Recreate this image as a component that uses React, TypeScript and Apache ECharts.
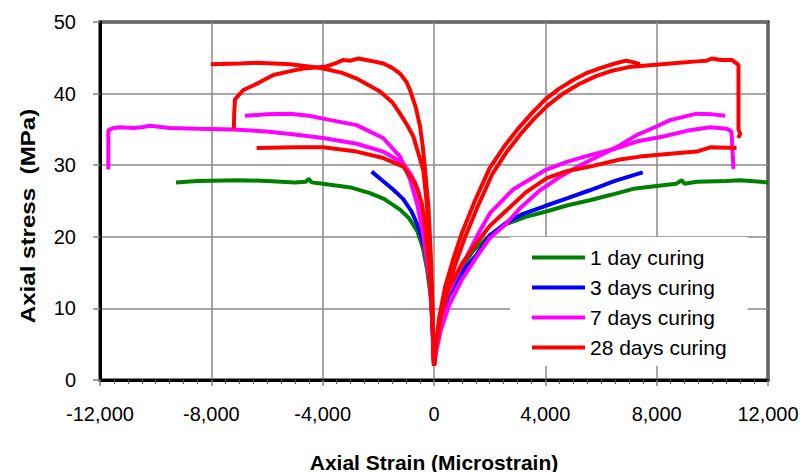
import React, { useEffect, useRef } from "react";
import * as echarts from "echarts";

const seriesNames = ["1 day curing", "3 days curing", "7 days curing", "28 days curing"];
const xTicks = { min: -12000, max: 12000, interval: 4000 };
const yTicks = { min: 0, max: 50, interval: 10 };

// 1 day curing
const day1Left: number[][] = [
  [-9270, 27.6], [-8500, 27.8], [-7000, 27.9], [-6000, 27.8], [-5000, 27.6], [-4600, 27.7], [-4500, 28.1],
  [-4400, 27.6], [-4000, 27.4], [-3000, 26.9], [-2300, 26.1], [-1800, 25.3], [-1220, 23.8], [-900, 22.6],
  [-600, 20.8], [-400, 18.5], [-250, 15.5], [-130, 12], [-60, 8], [-20, 4.5], [0, 2],
];
const day1Right: number[][] = [
  [0, 2], [60, 4.5], [200, 8], [450, 11.5], [826, 14.8], [1400, 18], [2000, 20.2], [2600, 21.8],
  [3300, 22.8], [4000, 23.5], [4800, 24.4], [5600, 25.1], [6400, 25.9], [7160, 26.7], [8000, 27.1],
  [8700, 27.4], [8900, 27.9], [9000, 27.4], [9450, 27.7], [10500, 27.8], [11000, 27.9], [12000, 27.6],
];

// 3 days curing
const day3Left: number[][] = [
  [-2240, 29.1], [-1900, 28], [-1500, 26.7], [-1110, 25.3], [-800, 23.5], [-620, 21.9], [-450, 20],
  [-320, 18.2], [-200, 15.5], [-140, 13.5], [-80, 10], [-50, 6.5], [-20, 4], [0, 2],
];
const day3Right: number[][] = [
  [0, 2], [80, 4.5], [250, 8], [500, 11.5], [815, 13.8], [1200, 16], [1530, 17.5], [2010, 20.2],
  [2600, 22], [3200, 23.2], [3990, 24.3], [4800, 25.4], [5600, 26.5], [6500, 27.8], [7500, 29],
];

// 7 days curing (two specimens)
const day7LeftA: number[][] = [
  [-11700, 29.4], [-11700, 34.9], [-11500, 35.2], [-11280, 35.3], [-10800, 35.2], [-10500, 35.3],
  [-10200, 35.5], [-9500, 35.2], [-8500, 35.1], [-7220, 35], [-6000, 34.7], [-5000, 34.3], [-3990, 33.8],
  [-2780, 33], [-1830, 31.9], [-1110, 30.3], [-800, 28.5], [-570, 26.5], [-400, 23.5], [-250, 19],
  [-150, 14.5], [-70, 9], [-20, 4.5], [0, 2],
];
const day7RightA: number[][] = [
  [0, 2], [60, 4], [200, 7.5], [450, 11.5], [800, 14.5], [1170, 17.2], [1600, 20.5], [2010, 23.3],
  [2840, 26.6], [3990, 29.3], [4800, 30.5], [5600, 31.4], [6500, 32.3], [7280, 33.3], [8230, 34],
  [9080, 34.8], [9920, 35.3], [10520, 35.1], [10690, 34.7], [10760, 29.5],
];
const day7LeftB: number[][] = [
  [-6790, 36.9], [-6000, 37.1], [-5170, 37.2], [-4500, 36.9], [-3990, 36.5], [-2780, 35.6], [-1830, 33.8],
  [-1220, 31.2], [-860, 28], [-600, 24.5], [-395, 20.5], [-250, 16.5], [-140, 13.5], [-60, 8], [-20, 4.5], [0, 2],
];
const day7RightB: number[][] = [
  [0, 2], [80, 4], [250, 7], [550, 10.5], [1000, 14], [1530, 17.2], [2000, 19.8], [2610, 21.9],
  [3090, 24], [3810, 26.5], [4500, 28.3], [5250, 30], [6200, 31.8], [6680, 32.8], [7280, 34.2],
  [7870, 35.2], [8480, 36.3], [9440, 37.2], [10000, 37.1], [10460, 36.9],
];

// 28 days curing (three specimens)
const day28LeftA: number[][] = [
  [-8020, 44.1], [-7000, 44.2], [-6370, 44.3], [-5170, 44.1], [-4500, 43.8], [-3980, 43.5], [-3300, 42.9],
  [-2780, 42.1], [-1940, 40.3], [-1500, 38.8], [-1220, 37.2], [-950, 35.5], [-740, 34], [-550, 31.5],
  [-385, 29.3], [-260, 24.7], [-160, 19], [-80, 12], [-30, 6], [0, 2],
];
const day28RightA: number[][] = [
  [0, 2], [60, 5], [200, 9], [400, 13], [700, 17], [1000, 20.5], [1500, 25.3], [2000, 29.6], [2500, 32.5],
  [3000, 35], [3500, 37.2], [4000, 39.2], [4500, 40.7], [5000, 41.9], [5500, 42.9], [6000, 43.6],
  [6500, 44.2], [6900, 44.6], [7150, 44.4], [7400, 44.1],
];
const day28LeftB: number[][] = [
  [-7190, 35.1], [-7180, 37], [-7150, 39.2], [-6850, 40.5], [-6300, 41.5], [-5770, 42.6], [-5200, 43.1],
  [-4700, 43.5], [-3860, 43.8], [-3500, 44.3], [-3260, 44.7], [-3000, 44.6], [-2720, 44.9], [-2300, 44.6],
  [-1820, 44.2], [-1500, 43.6], [-1220, 42.8], [-1000, 41.7], [-860, 40.5], [-650, 38], [-500, 35.4],
  [-400, 32.5], [-320, 29.3], [-200, 24.2], [-120, 18], [-60, 11], [-20, 5], [0, 2],
];
const day28RightB: number[][] = [
  [0, 2], [80, 5], [250, 9], [450, 12.5], [800, 16.5], [1100, 19.8], [1600, 24.5], [2100, 28.8],
  [2600, 31.8], [3100, 34.3], [3600, 36.5], [4100, 38.4], [4600, 39.9], [5200, 41.3], [5800, 42.4],
  [6400, 43.2], [7000, 43.7], [7870, 44], [8500, 44.2], [9440, 44.5], [9800, 44.6], [9980, 44.9],
  [10300, 44.7], [10700, 44.7], [10940, 44], [10940, 35], [11000, 34.4], [10930, 33.8],
];
const day28LeftC: number[][] = [
  [-6370, 32.4], [-5000, 32.5], [-3980, 32.5], [-2780, 31.9], [-1820, 31], [-1100, 29.8], [-680, 27.5],
  [-440, 24.7], [-300, 21], [-180, 16], [-90, 11], [-30, 6], [0, 2],
];
const day28RightC: number[][] = [
  [0, 2], [80, 5], [250, 9], [550, 13], [1000, 16.2], [1410, 18.5], [2000, 21.5], [2610, 23.7],
  [3300, 26.2], [4050, 28.2], [4800, 29.2], [5600, 29.8], [6680, 30.8], [7400, 31.2], [8480, 31.6],
  [9440, 31.9], [9920, 32.5], [10870, 32.4],
];

const colors = ["#008000", "#0000FF", "#FF00FF", "#FF0000"];

const FONT = "'Liberation Sans', Arial, sans-serif";

export default function App() {
  const ref = useRef<HTMLDivElement>(null);
  useEffect(() => {
    if (!ref.current) return;
    const chart = echarts.init(ref.current, undefined, { renderer: "svg" });
    const groups: { idx: number; data: number[][] }[] = [
      { idx: 0, data: [...day1Left, ...day1Right] },
      { idx: 1, data: [...day3Left, ...day3Right] },
      { idx: 2, data: [...day7LeftA, ...day7RightA] },
      { idx: 2, data: [...day7LeftB, ...day7RightB] },
      { idx: 3, data: [...day28LeftA, ...day28RightA] },
      { idx: 3, data: [...day28LeftB, ...day28RightB] },
      { idx: 3, data: [...day28LeftC, ...day28RightC] },
    ];
    chart.setOption({
      animation: false,
      backgroundColor: "#ffffff",
      grid: {
        left: 100,
        right: 36,
        top: 22,
        bottom: 92,
        show: true,
        borderColor: "#000000",
        borderWidth: 3,
        backgroundColor: "transparent",
      },
      legend: {
        data: seriesNames,
        orient: "vertical",
        left: 510,
        top: 237,
        padding: [10, 21, 8, 22],
        itemGap: 9,
        itemWidth: 53,
        itemHeight: 4,
        icon: "rect",
        backgroundColor: "#ffffff",
        selectedMode: false,
        textStyle: { fontSize: 21, color: "#000", fontFamily: FONT },
      },
      xAxis: {
        type: "value",
        min: xTicks.min,
        max: xTicks.max,
        interval: xTicks.interval,
        axisLine: { show: true, onZero: false, lineStyle: { color: "#000", width: 3 } },
        axisTick: { show: true, length: 6, lineStyle: { color: "#808080", width: 1.5 } },
        minorTick: { show: true, splitNumber: 8, length: 4, lineStyle: { color: "#555", width: 1 } },
        splitLine: { show: true, lineStyle: { color: "#8a8a8a", width: 1.5 } },
        axisLabel: {
          fontSize: 20,
          color: "#000",
          fontFamily: FONT,
          margin: 24,
          formatter: (v: number) => v.toLocaleString("en-US"),
        },
      },
      yAxis: {
        type: "value",
        min: yTicks.min,
        max: yTicks.max,
        interval: yTicks.interval,
        axisLine: { show: true, onZero: false, lineStyle: { color: "#000", width: 3 } },
        axisTick: { show: true, length: 7, lineStyle: { color: "#808080", width: 1.5 } },
        splitLine: { show: true, lineStyle: { color: "#8a8a8a", width: 1.5 } },
        axisLabel: { fontSize: 20, color: "#000", fontFamily: FONT, margin: 24 },
      },
      graphic: [
        {
          type: "text",
          x: 434,
          y: 462,
          style: {
            text: "Axial Strain (Microstrain)",
            fontSize: 21,
            fontWeight: "bold",
            fontFamily: FONT,
            fill: "#000",
            align: "center",
            verticalAlign: "middle",
          },
        },
        {
          type: "text",
          x: 28,
          y: 216,
          rotation: Math.PI / 2,
          scaleX: 1.15,
          style: {
            text: "Axial stress  (MPa)",
            fontSize: 21,
            fontWeight: "bold",
            fontFamily: FONT,
            fill: "#000",
            align: "center",
            verticalAlign: "middle",
          },
        },
      ],
      series: groups.map((g) => ({
        name: seriesNames[g.idx],
        type: "line",
        data: g.data,
        symbol: "none",
        smooth: false,
        clip: true,
        color: colors[g.idx],
        lineStyle: { color: colors[g.idx], width: 4 },
      })),
    });
    return () => chart.dispose();
  }, []);
  return (
    <div
      ref={ref}
      style={{ position: "absolute", left: 0, top: 0, width: 804, height: 472 }}
    />
  );
}
